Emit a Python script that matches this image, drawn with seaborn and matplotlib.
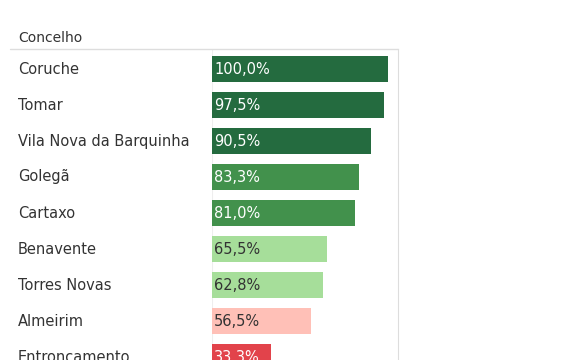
import matplotlib
matplotlib.use("Agg")
import matplotlib.pyplot as plt
import seaborn as sns
import pandas as pd

concelhos = ["Coruche", "Tomar", "Vila Nova da Barquinha", "Golegã", "Cartaxo",
             "Benavente", "Torres Novas", "Almeirim", "Entroncamento"]
percent = [100.0, 97.5, 90.5, 83.3, 81.0, 65.5, 62.8, 56.5, 33.3]
header = "Concelho"


def band_color(v):
    # colour bands as in the original dashboard
    if v >= 90:
        return "#246b3f", "white"
    if v >= 80:
        return "#42914c", "white"
    if v >= 60:
        return "#a6de9a", "#333333"
    if v >= 50:
        return "#ffc0b7", "#333333"
    return "#e2434b", "white"


df = pd.DataFrame({"concelho": concelhos, "pct": percent})
bar_cols = [band_color(v)[0] for v in percent]
txt_cols = [band_color(v)[1] for v in percent]

sns.set_style("white")
plt.rcParams["font.family"] = ["DejaVu Sans"]

W, H = 580, 360
fig = plt.figure(figsize=(W / 100, H / 100), dpi=100)
top_line = 49
ax = fig.add_axes([212 / W, 0, (398 - 212) / W, (H - top_line) / H])

sns.barplot(data=df, x="pct", y="concelho", hue="concelho", palette=bar_cols,
            legend=False, width=0.72, ax=ax, saturation=1, edgecolor="none")

pitch = 36
first = 69 - top_line
ax.set_ylim((H - top_line - first) / pitch, -first / pitch)
ax.set_xlim(0, 100 * 186 / 176)
ax.set_xlabel("")
ax.set_ylabel("")
ax.set_xticks([])
ax.set_yticks([])
for s in ["top", "bottom", "left"]:
    ax.spines[s].set_visible(False)
ax.spines["right"].set_color("#dddddd")
ax.axvline(0, color="#eeeeee", lw=0.8, zorder=0)

for i, (name, v) in enumerate(zip(concelhos, percent)):
    ax.text(1.2, i, f"{v:.1f}%".replace(".", ","), va="center", ha="left",
            fontsize=10.5, color=txt_cols[i])
    y_fig = (H - (69 + i * pitch)) / H
    fig.text(18 / W, y_fig, name, va="center", ha="left", fontsize=10.5,
             color="#333333")

fig.text(18 / W, (H - 38) / H, header, va="center", ha="left", fontsize=10,
         color="#333333")
fig.add_artist(plt.Line2D([10 / W, 398 / W], [(H - top_line) / H] * 2,
                          color="#dddddd", lw=1))

fig.savefig("out.png", dpi=100)
